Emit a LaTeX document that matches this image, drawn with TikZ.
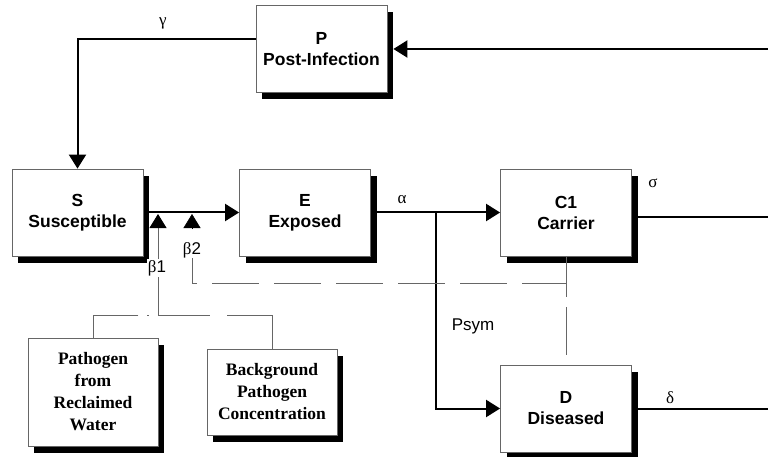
\documentclass[tikz,border=0pt]{standalone}
\usepackage{fontspec}
\setmainfont{Liberation Sans}
\newfontfamily\serifb{Liberation Serif}
\usetikzlibrary{arrows.meta,shadows,calc}
\begin{document}
\begin{tikzpicture}[x=1pt,y=-1pt,
  box/.style={draw=black!60, line width=0.8pt, fill=white, minimum width=131pt, minimum height=87pt,
    inner sep=0pt, align=center, font=\fontsize{17.5}{21}\selectfont\bfseries,
    general shadow={fill=black, shadow xshift=6pt, shadow yshift=-7pt}},
  sbox/.style={box, font=\serifb\fontsize{17.5}{22}\selectfont\bfseries},
  flow/.style={line width=2pt, -{Triangle[length=14pt,width=17pt]}},
  thickline/.style={line width=2pt},
  fineline/.style={draw=black!60, line width=0.9pt},
  tipup/.style={-{Triangle[length=14pt,width=17pt,color=black]}},
  greek/.style={font=\serifb\fontsize{17}{17}\selectfont, inner sep=1pt},
  lab/.style={font=\fontsize{17}{17}\selectfont, inner sep=1pt},
]
\useasboundingbox (0,0) rectangle (768,457);

% boxes
\node[box] (P) at (321.5,49) {P\\Post-Infection};
\node[box] (S) at (77.5,212.5) {S\\Susceptible};
\node[box] (E) at (305,212.5) {E\\Exposed};
\node[box] (C) at (566,212.5) {C1\\Carrier};
\node[box] (D) at (566,408.5) {D\\Diseased};
\node[sbox, minimum width=130pt, minimum height=108pt] (W) at (93,392) {Pathogen\\from\\Reclaimed\\Water};
\node[sbox, minimum width=130pt, minimum height=86pt] (B) at (272,392) {Background\\Pathogen\\Concentration};

% coordinates
\coordinate (inP) at (768,49);
\coordinate (outC) at (768,217);
\coordinate (outD) at (768,408.5);
\coordinate (br) at (436,212.5);
\coordinate (jb1) at (158,315);
\coordinate (b1) at (158,214);
\coordinate (b2) at (192,214);
\coordinate (b2base) at (192,229);
\coordinate (b2top) at (192,258);
\coordinate (jc) at (566,283);

% solid flows
\draw[flow] ([yshift=10pt]P.west) -| (S.north);
\draw[flow] (inP) -- ([xshift=6pt]P.east);
\draw[flow] ([xshift=6pt]S.east) -- (E.west);
\draw[flow] ([xshift=6pt]E.east) -- (C.west);
\draw[flow] (br) |- (D.west);
\draw[thickline] ([shift={(6pt,-4.5pt)}]C.east) -- (outC);
\draw[thickline] ([xshift=6pt]D.east) -- (outD);

% beta inputs
\draw[fineline, tipup] (jb1) -- (b1);
\draw[tipup, line width=0.5pt] (b2base) -- (b2);
\draw[fineline, dash pattern=on 47pt off 15pt, dash phase=17pt] (b2top) |- (jc);
\draw[fineline, dash pattern=on 41pt off 10pt on 48pt off 30pt] (C.south) -- (D.north);
\draw[fineline, dash pattern=on 0.1pt off 9pt on 1.5pt off 9pt on 120pt off 1pt] (jb1) -| (W.north);
\draw[fineline, dash pattern=on 52pt off 17pt on 120pt off 1pt] (jb1) -| (B.north);

% labels
\node[greek] (lg) at (163,23) {γ};
\node[greek] (la) at (402,200) {α};
\node[greek] (ls) at (653,183) {σ};
\node[greek] (ld) at (670,398) {δ};
\node[lab, fill=white] (lb1) at (157,268) {{\serifb β}1};
\node[lab] (lb2) at (192,250) {{\serifb β}2};
\node[lab] (lp) at (473,326) {Psym};
\end{tikzpicture}
\end{document}
